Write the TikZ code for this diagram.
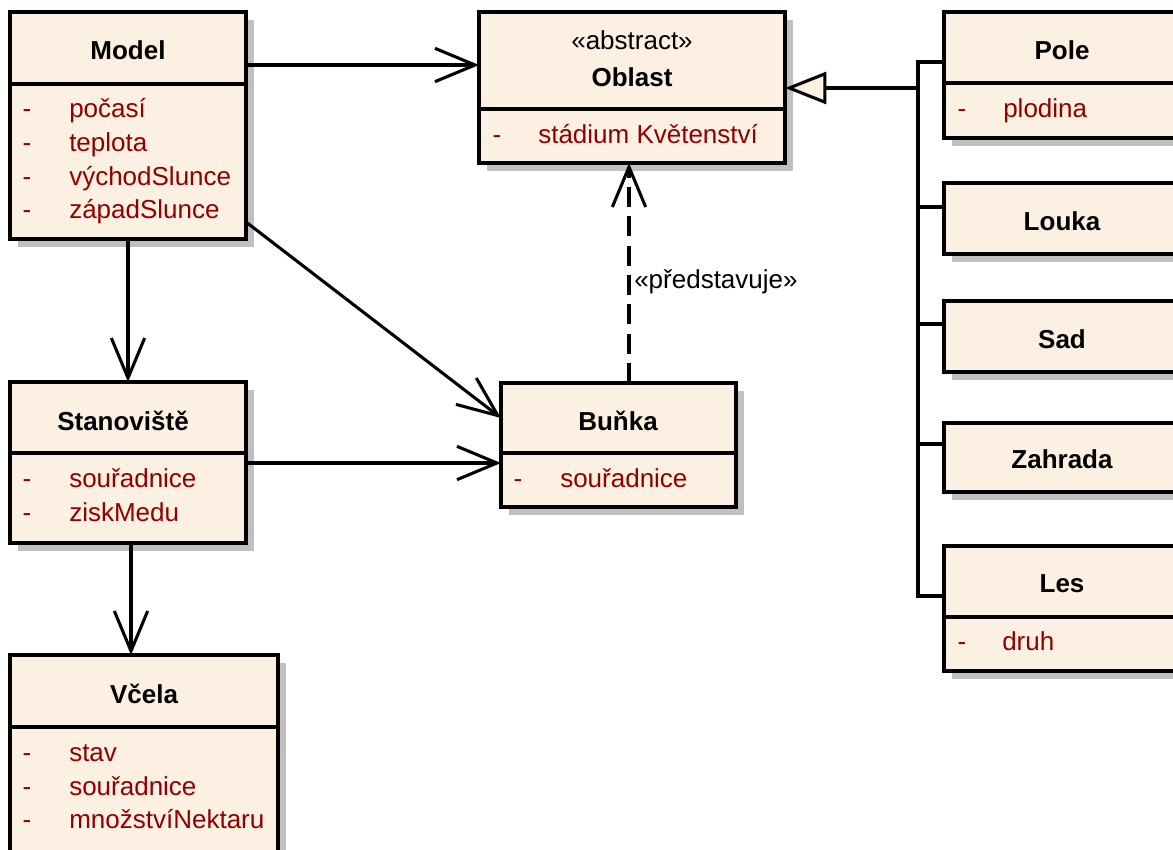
\documentclass[tikz,border=0pt]{standalone}
\usepackage{fontspec}
\setmainfont{Liberation Sans}
\usetikzlibrary{arrows.meta}
\definecolor{boxfill}{RGB}{251,240,225}
\definecolor{attrred}{RGB}{145,0,0}
\definecolor{shadowc}{RGB}{192,192,192}
\tikzset{
  boxst/.style={draw=black, line width=2.4pt, fill=boxfill, rectangle, inner sep=0pt, outer sep=0pt},
  divider/.style={line width=2.4pt},
  title/.style={font=\bfseries\fontsize{19.5}{21}\selectfont, anchor=base, inner sep=0pt},
  stereo/.style={font=\fontsize{19.5}{21}\selectfont, anchor=base, inner sep=0pt},
  attr/.style={font=\fontsize{19.5}{21}\selectfont, text=attrred, anchor=base west, inner sep=0pt},
  vis/.style={font=\fontsize{19.5}{21}\selectfont, text=attrred, anchor=base, inner sep=0pt},
  lbl/.style={font=\fontsize{19.5}{21}\selectfont, anchor=base west, inner sep=0pt},
  assoc/.style={line width=2.3pt, -{Straight Barb[length=30pt,width=25pt]}},
  dep/.style={assoc, dash pattern=on 15pt off 7pt},
  gen/.style={line width=2.3pt},
  genarrow/.style={line width=2.3pt, -{Triangle[length=31pt,width=24pt,fill=boxfill]}},
}
\newcommand\umlbox[6]{%
  \fill[shadowc] (#2+8,#3+8) rectangle (#4+8,#5+8);
  \node[boxst, anchor=north west, minimum width={(#4-#2)*0.75pt}, minimum height={(#5-#3)*0.75pt}] (#1) at (#2,#3) {};
  \ifx\relax#6\relax\else\draw[divider] (#2,#6) -- (#4,#6);\fi
}
\begin{document}
\begin{tikzpicture}[x=0.75pt,y=-0.75pt]
\useasboundingbox (0,0) rectangle (1173,849);
\clip (0,0) rectangle (1173,849);
\fill[white] (0,0) rectangle (1173,849);

% boxes
\umlbox{model}{10}{12}{246}{239}{84}
\umlbox{oblast}{479}{12}{785}{163}{109}
\umlbox{stan}{10}{382}{246}{543}{453}
\umlbox{bunka}{501}{383}{736}{507}{453}
\umlbox{vcela}{10}{655}{278}{880}{727}
\umlbox{pole}{944}{12}{1180}{138}{83}
\umlbox{louka}{944}{183}{1180}{254}{}
\umlbox{sad}{944}{301}{1180}{372}{}
\umlbox{zahrada}{944}{423}{1180}{492}{}
\umlbox{les}{944}{546}{1180}{671}{617}

% Model
\node[title] (modelT) at (128,60) {Model};
\node[vis] (mv1) at (27,117) {-};
\node[attr] (ma1) at (69,117) {počasí};
\node[vis] (mv2) at (27,151) {-};
\node[attr] (ma2) at (69,151) {teplota};
\node[vis] (mv3) at (27,185) {-};
\node[attr] (ma3) at (69,185) {východSlunce};
\node[vis] (mv4) at (27,218) {-};
\node[attr] (ma4) at (69,218) {západSlunce};

% Oblast
\node[stereo] (oblS) at (632,50) {«abstract»};
\node[title] (oblT) at (632,86) {Oblast};
\node[vis] (ov1) at (497,143) {-};
\node[attr] (oa1) at (538,143) {stádium Květenství};

% Stanoviste
\node[title] (stanT) at (123,430) {Stanoviště};
\node[vis] (sv1) at (27,487) {-};
\node[attr] (sa1) at (69,487) {souřadnice};
\node[vis] (sv2) at (27,521) {-};
\node[attr] (sa2) at (69,521) {ziskMedu};

% Bunka
\node[title] (bunT) at (618,430) {Buňka};
\node[vis] (bv1) at (518,487) {-};
\node[attr] (ba1) at (560,487) {souřadnice};

% Vcela
\node[title] (vceT) at (144,703) {Včela};
\node[vis] (vv1) at (27,761) {-};
\node[attr] (va1) at (69,761) {stav};
\node[vis] (vv2) at (27,795) {-};
\node[attr] (va2) at (69,795) {souřadnice};
\node[vis] (vv3) at (27,828) {-};
\node[attr] (va3) at (69,828) {množstvíNektaru};

% right column
\node[title] (poleT) at (1062,60) {Pole};
\node[vis] (pv1) at (962,117) {-};
\node[attr] (pa1) at (1003,117) {plodina};
\node[title] (loukaT) at (1062,230) {Louka};
\node[title] (sadT) at (1062,348) {Sad};
\node[title] (zahT) at (1062,468) {Zahrada};
\node[title] (lesT) at (1062,592) {Les};
\node[vis] (lv1) at (962,650) {-};
\node[attr] (la1) at (1002,650) {druh};

% helper coordinates
\coordinate (y65) at (0,65);
\coordinate (y222) at (0,222);
\coordinate (y418) at (0,418);
\coordinate (y463) at (0,463);
\coordinate (x131) at (131,0);
\coordinate (x629) at (629,0);
\coordinate (bus) at (918,88);
\coordinate (y62) at (0,62);
\coordinate (y207) at (0,207);
\coordinate (y324) at (0,324);
\coordinate (y444) at (0,444);
\coordinate (y596) at (0,596);

% connectors
\draw[assoc] (model.east |- y65) -- (oblast.west |- y65);
\draw[assoc] (model.east |- y222) -- (bunka.west |- y418);
\draw[assoc] (model.south) -- (stan.north);
\draw[assoc] (stan.east |- y463) -- (bunka.west |- y463);
\draw[assoc] (stan.south -| x131) -- (vcela.north -| x131);
\draw[dep] (bunka.north -| x629) -- (oblast.south -| x629);
\node[lbl] (depL) at (634,288) {«představuje»};

% generalization
\draw[genarrow] (bus) -- (oblast.east |- bus);
\draw[gen] (pole.west |- y62) -- (bus |- y62) -- (bus |- y596) -- (les.west |- y596);
\draw[gen] (bus |- y207) -- (louka.west |- y207);
\draw[gen] (bus |- y324) -- (sad.west |- y324);
\draw[gen] (bus |- y444) -- (zahrada.west |- y444);
\end{tikzpicture}
\end{document}
